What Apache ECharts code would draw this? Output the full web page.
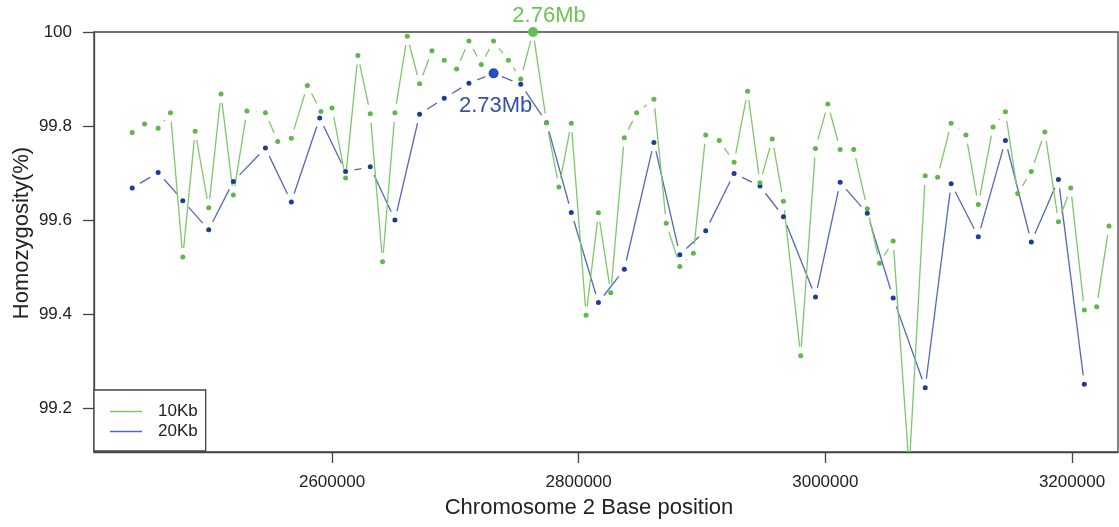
<!DOCTYPE html>
<html><head><meta charset="utf-8">
<script src="https://cdn.jsdelivr.net/npm/echarts@6/dist/echarts.min.js"></script>
<style>html,body{margin:0;padding:0;background:#fff}#c{width:1119px;height:527px}</style>
</head><body><div id="c"></div>
<script>
// 10Kb windows: position (bp) and homozygosity (%)
const pos10 = [2438000,2448000,2459000,2469000,2479000,2489000,2500000,2510000,2520000,2531000,
2546000,2556000,2567000,2580000,2591000,2600000,2611000,2621000,2631000,2641000,
2651000,2661000,2671000,2681000,2691000,2701000,2711000,2721000,2731000,2743000,
2753000,2763000,2774000,2784000,2794000,2806000,2816000,2826000,2837000,2847000,
2861000,2871000,2882000,2893000,2903000,2914000,2926000,2937000,2947000,2957000,
2966000,2980000,2992000,3002000,3012000,3023000,3034000,3044000,3055000,3068000,
3081000,3091000,3102000,3114000,3124000,3136000,3146000,3156000,3167000,3178000,
3189000,3199000,3210000,3220000,3230000];
const val10 = [99.786,99.804,99.795,99.828,99.521,99.789,99.626,99.868,99.653,99.832,
99.828,99.767,99.774,99.886,99.831,99.838,99.689,99.950,99.826,99.511,
99.828,99.991,99.890,99.960,99.940,99.921,99.981,99.931,99.981,99.940,
99.900,100.0,99.807,99.670,99.806,99.397,99.615,99.445,99.775,99.828,
99.857,99.593,99.501,99.529,99.781,99.769,99.723,99.874,99.679,99.772,
99.640,99.311,99.752,99.847,99.750,99.750,99.624,99.508,99.555,99.07,
99.694,99.691,99.806,99.781,99.633,99.798,99.830,99.656,99.703,99.787,
99.596,99.668,99.408,99.415,99.587];
// 20Kb windows
const pos20 = [2438000,2459000,2479000,2500000,2520000,2546000,2567000,2590000,2611000,2631000,
2651000,2671000,2691000,2711000,2731000,2753000,2774000,2794000,2816000,2837000,
2861000,2882000,2903000,2926000,2947000,2966000,2992000,3012000,3034000,3055000,
3081000,3102000,3124000,3146000,3167000,3189000,3210000];
const val20 = [99.668,99.701,99.641,99.579,99.682,99.753,99.638,99.817,99.703,99.713,
99.600,99.825,99.859,99.891,99.912,99.889,99.807,99.616,99.424,99.495,
99.765,99.526,99.577,99.699,99.672,99.607,99.436,99.680,99.614,99.434,
99.243,99.677,99.564,99.769,99.553,99.686,99.250];
const xTicks = [2600000, 2800000, 3000000, 3200000];
const yTicks = [99.2, 99.4, 99.6, 99.8, 100];
const names = ['10Kb', '20Kb'];

const FONT = '"Liberation Sans", Arial, sans-serif';
const GREEN_LINE = '#7cc96a', GREEN_PT = '#5db84a', GREEN_BIG = '#62c04e';
const BLUE_LINE = '#5268b8', BLUE_PT = '#1d3b98', BLUE_BIG = '#2550bf';
const GAP = 9;

function segments(xs, ys) {
  const out = [];
  for (let i = 0; i < xs.length - 1; i++) out.push([xs[i], ys[i], xs[i + 1], ys[i + 1]]);
  return out;
}
function lineSeries(name, xs, ys, color) {
  return {
    type: 'custom', name: name, itemStyle: { color: color },
    data: segments(xs, ys),
    encode: { x: [0, 2], y: [1, 3] },
    silent: true,
    renderItem: function (params, api) {
      const p1 = api.coord([api.value(0), api.value(1)]);
      const p2 = api.coord([api.value(2), api.value(3)]);
      const dx = p2[0] - p1[0], dy = p2[1] - p1[1];
      const L = Math.sqrt(dx * dx + dy * dy);
      if (L <= 2 * GAP) return { type: 'group', children: [] };
      const ux = dx / L, uy = dy / L;
      const cs = params.coordSys;
      return {
        type: 'line',
        shape: { x1: p1[0] + ux * GAP, y1: p1[1] + uy * GAP, x2: p2[0] - ux * GAP, y2: p2[1] - uy * GAP },
        style: { stroke: color, lineWidth: 1.3 },
        clipPath: { type: 'rect', shape: { x: cs.x, y: cs.y, width: cs.width, height: cs.height } }
      };
    }
  };
}
function pointSeries(name, xs, ys, color, bigColor, labelOpt) {
  let maxI = 0;
  ys.forEach((v, i) => { if (v > ys[maxI]) maxI = i; });
  const data = xs.map((x, i) => {
    if (i !== maxI) return [x, ys[i]];
    return {
      value: [x, ys[i]], symbolSize: 10, itemStyle: { color: bigColor },
      label: Object.assign({
        show: true, formatter: (x / 1e6).toFixed(2) + 'Mb',
        fontFamily: FONT, fontSize: 22, distance: 0
      }, labelOpt)
    };
  });
  return {
    type: 'scatter', name: name + ' pts', data: data, symbolSize: 5, clip: true,
    itemStyle: { color: color, opacity: 1 }, silent: true
  };
}

const chart = echarts.init(document.getElementById('c'), null, { renderer: 'canvas' });
chart.setOption({
  animation: false,
  backgroundColor: '#fff',
  textStyle: { fontFamily: FONT },
  grid: { left: 94, top: 32, right: 1, bottom: 75, show: true, borderColor: '#444', borderWidth: 1.3, backgroundColor: 'transparent', outerBoundsMode: 'none', containLabel: false },
  xAxis: {
    type: 'value', min: 2407000, max: 3237300, scale: true,
    axisLine: { show: true, onZero: false, lineStyle: { color: '#444', width: 1.3 } },
    axisTick: { show: true, inside: false, length: 11, customValues: xTicks, lineStyle: { color: '#444', width: 1.3 } },
    axisLabel: { customValues: xTicks, margin: 22, fontSize: 17, color: '#222', fontFamily: FONT, formatter: v => String(v) },
    splitLine: { show: false }
  },
  yAxis: {
    type: 'value', min: 99.106, max: 100, scale: true,
    axisLine: { show: true, onZero: false, lineStyle: { color: '#444', width: 1.3 } },
    axisTick: { show: true, inside: false, length: 11, customValues: yTicks, lineStyle: { color: '#444', width: 1.3 } },
    axisLabel: { customValues: yTicks, margin: 22, fontSize: 17, color: '#222', fontFamily: FONT, formatter: v => (v === 100 ? '100' : v.toFixed(1)) },
    splitLine: { show: false }
  },
  legend: {
    data: [{ name: names[0], icon: 'rect' }, { name: names[1], icon: 'rect' }],
    orient: 'vertical', left: 94, top: 390,
    itemWidth: 32, itemHeight: 1.5, itemGap: 3,
    padding: [13, 8, 11, 16],
    backgroundColor: '#fff', borderColor: '#444', borderWidth: 1.3, borderRadius: 0,
    textStyle: { fontSize: 17, color: '#222', fontFamily: FONT, padding: [0, 0, 0, 11] },
    selectedMode: false
  },
  series: [
    lineSeries(names[1], pos20, val20, BLUE_LINE),
    pointSeries(names[1], pos20, val20, BLUE_PT, BLUE_BIG, { position: 'bottom', offset: [2, 17], color: '#3150aa' }),
    lineSeries(names[0], pos10, val10, GREEN_LINE),
    pointSeries(names[0], pos10, val10, GREEN_PT, GREEN_BIG, { position: 'top', offset: [16, 0], color: '#6cc356' })
  ],
  graphic: [
    { type: 'text', x: 589, y: 508, style: { text: 'Chromosome 2 Base position', fontSize: 22, fontFamily: FONT, fill: '#222', align: 'center', verticalAlign: 'middle' } },
    { type: 'text', x: 22, y: 233, rotation: Math.PI / 2, style: { text: 'Homozygosity(%)', fontSize: 22, fontFamily: FONT, fill: '#222', align: 'center', verticalAlign: 'middle' } }
  ]
});
</script></body></html>
